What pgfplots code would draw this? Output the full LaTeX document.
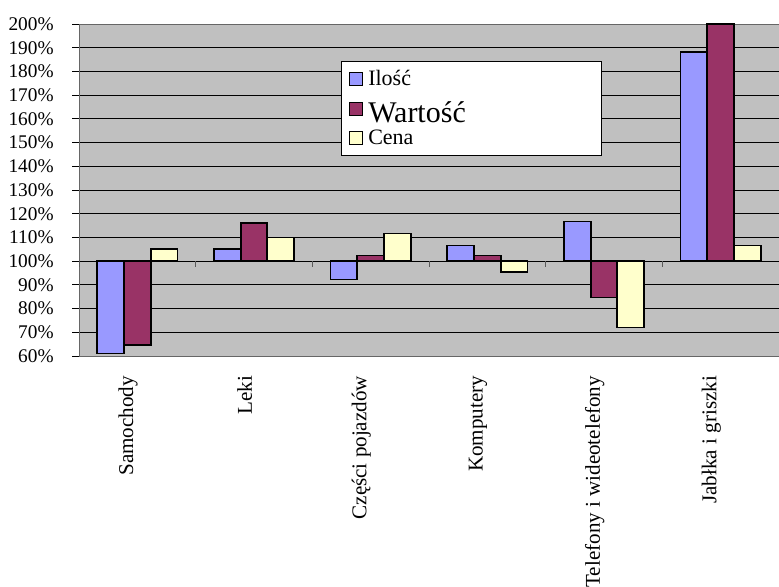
\documentclass[border=0pt]{standalone}
\usepackage{pgfplots}
\pgfplotsset{compat=1.18}
\usepackage{fontspec}
\setmainfont{Liberation Serif}
\definecolor{cI}{HTML}{9999FF}
\definecolor{cW}{HTML}{993366}
\definecolor{cC}{HTML}{FFFFCC}
\definecolor{bg}{HTML}{C0C0C0}
\begin{document}
\begin{tikzpicture}
\begin{axis}[
  scale only axis, width=525pt, height=249pt,
  xmin=-0.5, xmax=5.5, ymin=-40, ymax=100,
  y filter/.expression={y-100},
  ybar=0pt, bar width=0.229,
  axis background/.style={fill=bg},
  axis line style={draw=gray!80!black, line width=0.6pt},
  ytick={-40,-30,...,100},
  yticklabels={60\%,70\%,80\%,90\%,100\%,110\%,120\%,130\%,140\%,150\%,160\%,170\%,180\%,190\%,200\%},
  ymajorgrids, major grid style={black, line width=0.7pt},
  xtick={0,...,5},
  xticklabels={Samochody,Leki,Części pojazdów,Komputery,Telefony i wideotelefony,Jabłka i griszki},
  xticklabel style={rotate=90, anchor=east, font=\fontsize{15.8}{16}\selectfont, xshift=-6.5pt, yshift=7pt},
  yticklabel style={font=\fontsize{14.5}{15}\selectfont, xshift=-10.5pt},
  major x tick style={draw=none},
  major y tick style={black, line width=0.6pt},
  tick align=outside, major tick length=5pt,
  legend style={at={(0.374,0.889)}, anchor=north west, draw=black, fill=white,
    font=\fontsize{16.5}{18}\selectfont, inner xsep=6pt, inner ysep=5pt, row sep=0pt},
  legend cell align=left,
  legend image code/.code={\draw[#1, line width=0.8pt, draw=black] (0pt,-4.8pt) rectangle (9.6pt,4.8pt);},
  every axis plot/.append style={draw=black, line width=1.3pt},
]
\addplot[fill=cI] coordinates {(0,61) (1,105) (2,92.3) (3,106.6) (4,116.7) (5,188.3)};
\addlegendentry{\makebox[169pt][l]{\hspace{2pt}Ilość}}
\addplot[fill=cW] coordinates {(0,64.5) (1,116) (2,102.4) (3,102.4) (4,84.7) (5,200)};
\addlegendentry{\makebox[169pt][l]{\hspace{2pt}\rule{0pt}{22pt}\fontsize{22.5}{24}\selectfont Wartość}}
\addplot[fill=cC] coordinates {(0,105) (1,110) (2,111.7) (3,95.5) (4,72) (5,106.6)};
\addlegendentry{\makebox[169pt][l]{\hspace{2pt}\rule[-8.5pt]{0pt}{8.5pt}Cena}}
\pgfplotsinvokeforeach{-0.5,0.5,1.5,2.5,3.5,4.5,5.5}{
  \draw[gray!70!black, line width=0.6pt] (axis cs:#1,0) -- ++(0pt,-4.5pt);
}
\end{axis}
\pgfresetboundingbox
\path (current axis.south west) +(-59.25pt,-173.25pt) rectangle ([shift={(0pt,18pt)}]current axis.north east);
\end{tikzpicture}
\end{document}
